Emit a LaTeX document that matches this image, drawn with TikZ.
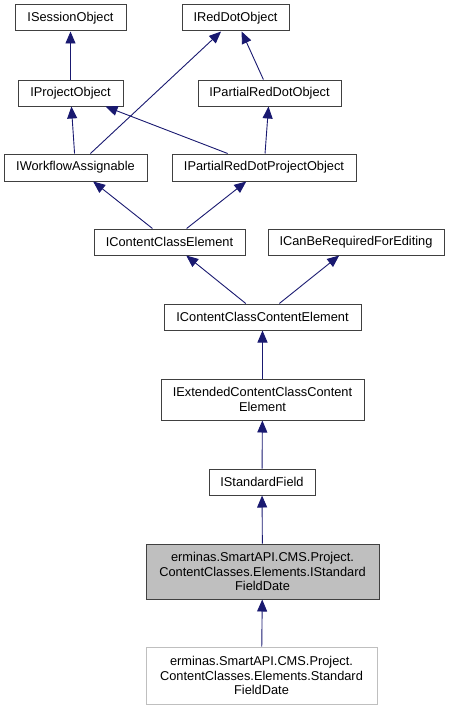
\documentclass[tikz,border=0pt]{standalone}
\usepackage{fontspec}
\setmainfont{Liberation Sans}
\usetikzlibrary{arrows.meta}
\definecolor{edgeblue}{HTML}{191970}
\definecolor{boxline}{HTML}{404040}
\definecolor{boxgray}{HTML}{BFBFBF}
\begin{document}
\begin{tikzpicture}[x=1pt, y=-1pt, every node/.style={font=\fontsize{12.8}{14.5}\selectfont}]
    \tikzstyle{iface} = [rectangle, draw=boxline, fill=white, line width=1pt, align=center, inner sep=0pt, minimum height=26pt]
    \tikzstyle{current} = [iface, fill=boxgray]
    \tikzstyle{impl} = [iface, draw=boxgray]
    \tikzstyle{inherit} = [draw=edgeblue, line width=0.9pt, -{Triangle[length=12pt, width=10pt]}]

    \useasboundingbox (0,0) rectangle (449,709);

    % Base interfaces
    \node [iface, minimum width=111pt] (sessionobj) at (70.5,18) {ISessionObject};
    \node [iface, minimum width=107pt] (reddotobj) at (235.5,18) {IRedDotObject};
    \node [iface, minimum width=105pt] (projectobj) at (70.5,93) {IProjectObject};
    \node [iface, minimum width=143pt] (partialrd) at (269.5,93) {IPartialRedDotObject};
    \node [iface, minimum width=143pt, minimum height=27pt] (workflow) at (75.5,167.5) {IWorkflowAssignable};
    \node [iface, minimum width=184pt, minimum height=27pt] (partialrdproject) at (264,167.5) {IPartialRedDotProjectObject};

    % Content class layer
    \node [iface, minimum width=151pt] (ccelement) at (169.5,242) {IContentClassElement};
    \node [iface, minimum width=176pt] (canberequired) at (356,242) {ICanBeRequiredForEditing};
    \node [iface, minimum width=197pt] (cccontent) at (262.5,317) {IContentClassContentElement};
    \node [iface, minimum width=203pt, minimum height=41pt] (extcccontent) at (262.5,399.5) {IExtendedContentClassContent\\Element};
    \node [iface, minimum width=106pt] (standardfield) at (262,482) {IStandardField};

    % Field date
    \node [current, minimum width=233pt, minimum height=55pt] (istdfielddate) at (262.5,571.5) {erminas.SmartAPI.CMS.Project.\\ContentClasses.Elements.IStandard\\FieldDate};
    \node [impl, minimum width=231pt, minimum height=57pt] (stdfielddate) at (261.5,675.5) {erminas.SmartAPI.CMS.Project.\\ContentClasses.Elements.Standard\\FieldDate};

    % Inheritance
    \draw [inherit] (projectobj) -- (sessionobj);
    \draw [inherit] (workflow) -- (reddotobj);
    \draw [inherit] (partialrd) -- (reddotobj);
    \draw [inherit] (workflow) -- (projectobj);
    \draw [inherit] (partialrdproject) -- (projectobj);
    \draw [inherit] (partialrdproject) -- (partialrd);
    \draw [inherit] (ccelement) -- (workflow);
    \draw [inherit] (ccelement) -- (partialrdproject);
    \draw [inherit] (cccontent) -- (ccelement);
    \draw [inherit] (cccontent) -- (canberequired);
    \draw [inherit] (extcccontent) -- (cccontent);
    \draw [inherit] (standardfield) -- (extcccontent);
    \draw [inherit] (istdfielddate) -- (standardfield);
    \draw [inherit] (stdfielddate) -- (istdfielddate);
\end{tikzpicture}
\end{document}
